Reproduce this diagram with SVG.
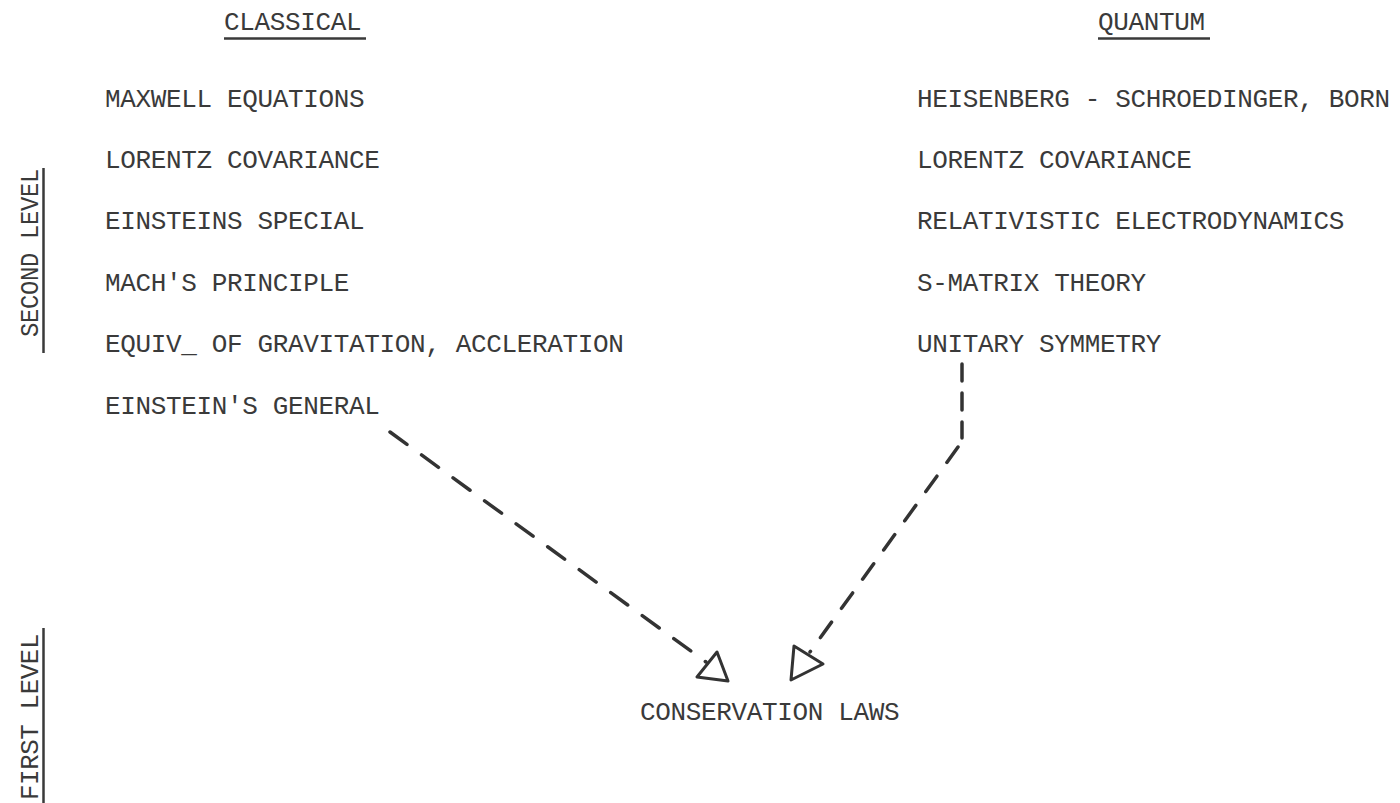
<svg xmlns="http://www.w3.org/2000/svg" width="1400" height="803" viewBox="0 0 1400 803">
<style>
  .t { font-family: "Liberation Mono", "DejaVu Sans Mono", monospace; font-size: 26px; letter-spacing: -0.35px; fill: #3a3a3a; }
  .ul { stroke: #3a3a3a; stroke-width: 2.5; fill: none; }
  .dash { stroke: #333; stroke-width: 3.5; fill: none; stroke-linecap: round; }
  .head { stroke: #333; stroke-width: 3; fill: none; stroke-linejoin: round; }
</style>
<rect width="1400" height="803" fill="#ffffff"/>

<g id="level-second">
  <text class="t" transform="translate(38,337) rotate(-90)" textLength="168" lengthAdjust="spacingAndGlyphs">SECOND LEVEL</text>
  <line class="ul" x1="43.5" y1="168" x2="43.5" y2="353"/>
</g>
<g id="level-first">
  <text class="t" transform="translate(38,800) rotate(-90)" textLength="166" lengthAdjust="spacingAndGlyphs">FIRST LEVEL</text>
  <line class="ul" x1="43.5" y1="628" x2="43.5" y2="803"/>
</g>

<g id="header-classical">
  <text class="t" x="224" y="30">CLASSICAL</text>
  <line class="ul" x1="224" y1="38.5" x2="366" y2="38.5"/>
</g>
<g id="header-quantum">
  <text class="t" x="1098" y="30">QUANTUM</text>
  <line class="ul" x1="1098" y1="38.5" x2="1210" y2="38.5"/>
</g>

<g id="classical-list">
  <g id="c-maxwell"><text class="t" x="105" y="107">MAXWELL EQUATIONS</text></g>
  <g id="c-lorentz"><text class="t" x="105" y="168">LORENTZ COVARIANCE</text></g>
  <g id="c-special"><text class="t" x="105" y="229">EINSTEINS SPECIAL</text></g>
  <g id="c-mach"><text class="t" x="105" y="291">MACH'S PRINCIPLE</text></g>
  <g id="c-equiv"><text class="t" x="105" y="352">EQUIV_ OF GRAVITATION, ACCLERATION</text></g>
  <g id="c-general"><text class="t" x="105" y="414">EINSTEIN'S GENERAL</text></g>
</g>

<g id="quantum-list">
  <g id="q-heisenberg"><text class="t" x="917" y="107">HEISENBERG - SCHROEDINGER, BORN</text></g>
  <g id="q-lorentz"><text class="t" x="917" y="168">LORENTZ COVARIANCE</text></g>
  <g id="q-relativistic"><text class="t" x="917" y="229">RELATIVISTIC ELECTRODYNAMICS</text></g>
  <g id="q-smatrix"><text class="t" x="917" y="291">S-MATRIX THEORY</text></g>
  <g id="q-unitary"><text class="t" x="917" y="352">UNITARY SYMMETRY</text></g>
</g>

<g id="conservation">
  <text class="t" x="640" y="720">CONSERVATION LAWS</text>
</g>

<g id="connectors">
  <path class="dash" d="M390,432 L706,662" stroke-dasharray="21 18"/>
  <polygon class="head" points="697,677 717,652 728,681"/>
  <path class="dash" d="M962,364 L962,438" stroke-dasharray="17 12"/>
  <path class="dash" d="M958,447 L810,652" stroke-dasharray="19 17"/>
  <polygon class="head" points="794,646 791,680 823,664"/>
</g>
</svg>
